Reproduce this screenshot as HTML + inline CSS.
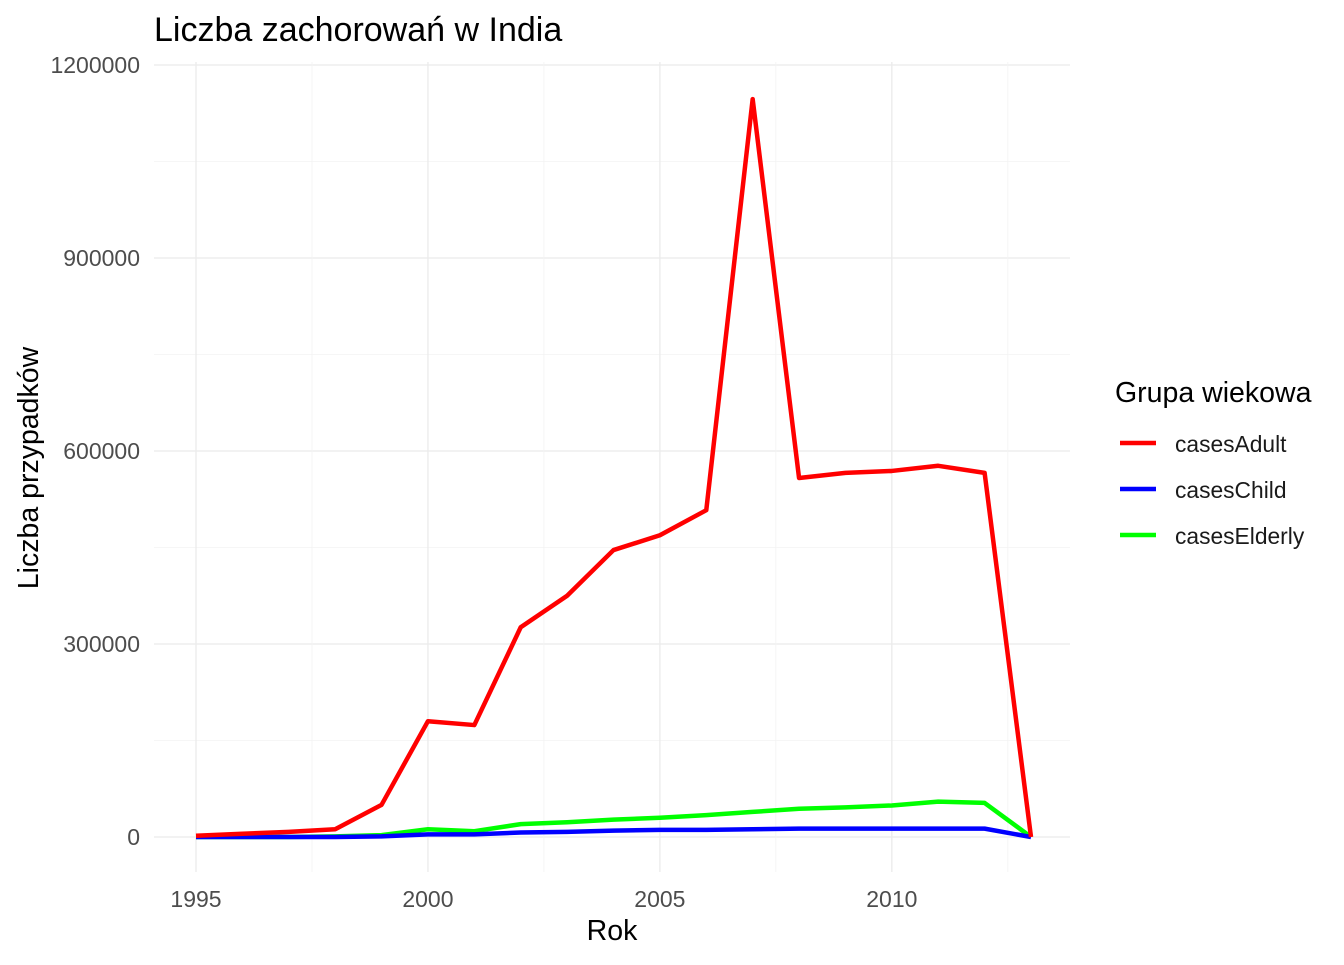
<!DOCTYPE html>
<html><head><meta charset="utf-8"><style>
body{margin:0;background:#fff;}
svg text{font-family:"Liberation Sans","Noto Sans CJK JP",sans-serif;}
</style></head><body>
<svg width="1344" height="960" xmlns="http://www.w3.org/2000/svg">
<rect width="1344" height="960" fill="#fff"/>
<g id="grid"></g>
<g id="lines"></g>
<g id="axes"></g>
<text x="154" y="41" font-size="34" fill="#000">Liczba zachorowań w India</text>
<text x="612" y="940" font-size="28.5" text-anchor="middle" fill="#000">Rok</text>
<text transform="translate(38,468) rotate(-90)" font-size="28.5" text-anchor="middle" fill="#000">Liczba przypadków</text>
<g>
<text x="1115" y="402" font-size="28.5" fill="#000">Grupa wiekowa</text>
<g><line x1="1120" x2="1156" y1="443" y2="443" stroke="#ff0000" stroke-width="4.5"/><text x="1175" y="452" font-size="22.8" fill="#1a1a1a">casesAdult</text></g>
<g><line x1="1120" x2="1156" y1="489" y2="489" stroke="#0000ff" stroke-width="4.5"/><text x="1175" y="498" font-size="22.8" fill="#1a1a1a">casesChild</text></g>
<g><line x1="1120" x2="1156" y1="535" y2="535" stroke="#00ff00" stroke-width="4.5"/><text x="1175" y="544" font-size="22.8" fill="#1a1a1a">casesElderly</text></g>
</g>
</svg>
<script>
const years=[1995,1996,1997,1998,1999,2000,2001,2002,2003,2004,2005,2006,2007,2008,2009,2010,2011,2012,2013];
const casesAdult=[2000,5000,8000,12000,50000,180000,174000,326000,375000,446000,469000,508000,1147000,558000,566000,569000,577000,566000,0];
const casesChild=[0,0,0,0,1000,4000,4000,7000,8000,10000,11000,11000,12000,13000,13000,13000,13000,13000,0];
const casesElderly=[0,0,0,1000,3000,12000,9000,20000,23000,27000,30000,34000,39000,44000,46000,49000,55000,53000,0];
const xTicks=[1995,2000,2005,2010];
const yTicks=[0,300000,600000,900000,1200000];
const NS="http://www.w3.org/2000/svg";
const x=v=>196+(v-1995)*(1031-196)/18;
const y=v=>837-v*(837-65)/1200000;
const L=154,R=1070,T=62,B=872;
function mk(t,a,p){const e=document.createElementNS(NS,t);for(const k in a)e.setAttribute(k,a[k]);p.appendChild(e);return e;}
const g=document.getElementById('grid');
for(let i=0;i<yTicks.length;i++){
 const l=mk('line',{x1:L,x2:R,y1:y(yTicks[i]),y2:y(yTicks[i]),stroke:'#ebebeb','stroke-width':1.3},g);
 
 
 if(i<yTicks.length-1){const m=(yTicks[i]+yTicks[i+1])/2;
  const l2=mk('line',{x1:L,x2:R,y1:y(m),y2:y(m),stroke:'#f3f3f3','stroke-width':0.8},g);
  
  }
}
for(const v of [1992.5,1997.5,2002.5,2007.5,2012.5]){
 if(x(v)<L||x(v)>R)continue;
 const l=mk('line',{x1:x(v),x2:x(v),y1:T,y2:B,stroke:'#f3f3f3','stroke-width':0.8},g);
 
 
}
for(const v of xTicks){
 const l=mk('line',{x1:x(v),x2:x(v),y1:T,y2:B,stroke:'#ebebeb','stroke-width':1.3},g);
 
 
}
const a=document.getElementById('axes');
for(const v of xTicks){
 const t=mk('text',{x:x(v),y:907,'font-size':23,fill:'#4d4d4d','text-anchor':'middle'},a);
 t.textContent=v;
 
 
}
for(const v of yTicks){
 const t=mk('text',{x:140,y:y(v)+8,'font-size':23,fill:'#4d4d4d','text-anchor':'end'},a);
 t.textContent=v;
 
 
}
const ln=document.getElementById('lines');
[[casesElderly,'#00ff00','line-cases-elderly'],[casesChild,'#0000ff','line-cases-child'],[casesAdult,'#ff0000','line-cases-adult']].forEach(([d,c,n])=>{
 const p=mk('polyline',{points:d.map((v,i)=>x(years[i])+','+y(v)).join(' '),fill:'none',stroke:c,'stroke-width':4.5,'stroke-linejoin':'round'},ln);
 
 
});
</script>
</body></html>
